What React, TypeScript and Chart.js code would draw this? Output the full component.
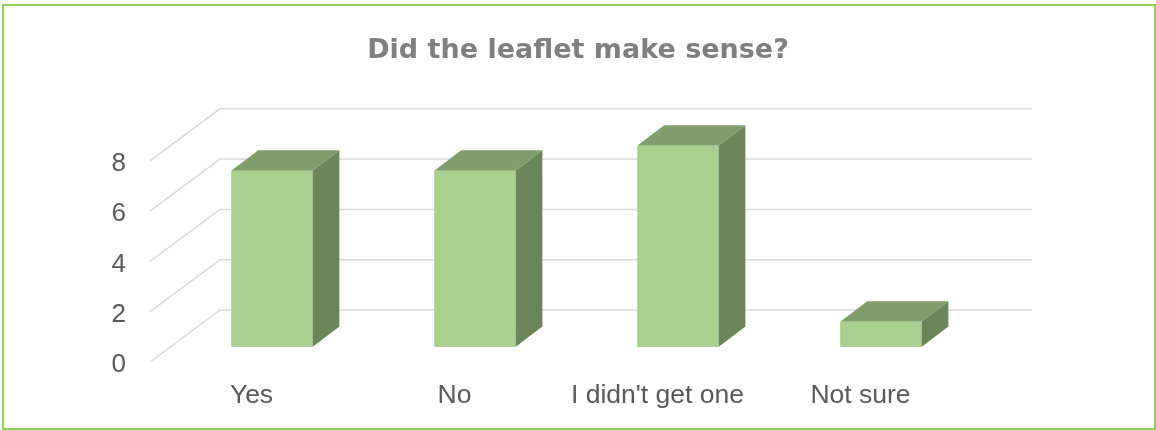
import React, { useEffect, useRef } from 'react';
import { Chart, registerables } from 'chart.js';

Chart.register(...registerables);

const categories = ['Yes', 'No', "I didn't get one", 'Not sure'];
const responses = [7, 7, 8, 1];
const yMin = 0;
const yMax = 8;
const yStep = 2;
const chartTitle = 'Did the leaflet make sense?';

// oblique 3D projection parameters (px)
const WALL_DX = 70;
const WALL_DY = -52;
const BAR_DEPTH_START = 0.29;
const BAR_DX = 27;
const BAR_DY = -20.5;

const FRONT_COLOR = '#A9D08E';
const TOP_COLOR = '#7F9E6A';
const SIDE_COLOR = '#6B8759';
const GRID_COLOR = '#D9D9D9';
const TEXT_COLOR = '#595959';

const threeDPlugin = {
  id: 'threeD',
  beforeDatasetsDraw(chart: any) {
    const { ctx, chartArea, scales } = chart;
    const y = scales.y;
    ctx.save();
    ctx.strokeStyle = GRID_COLOR;
    ctx.lineWidth = 1.5;
    y.ticks.forEach((t: any) => {
      const py = y.getPixelForValue(t.value);
      ctx.beginPath();
      ctx.moveTo(chartArea.left, py);
      ctx.lineTo(chartArea.left + WALL_DX, py + WALL_DY);
      ctx.lineTo(chartArea.right + WALL_DX, py + WALL_DY);
      ctx.stroke();
    });
    ctx.restore();
  },
  afterDatasetsDraw(chart: any) {
    const { ctx } = chart;
    const meta = chart.getDatasetMeta(0);
    const ox = WALL_DX * BAR_DEPTH_START;
    const oy = WALL_DY * BAR_DEPTH_START;
    ctx.save();
    meta.data.forEach((bar: any) => {
      const { x, y, base, width } = bar.getProps(['x', 'y', 'base', 'width'], true);
      const l = x - width / 2 + ox;
      const r = x + width / 2 + ox;
      const t = y + oy;
      const b = base + oy;
      // side
      ctx.fillStyle = SIDE_COLOR;
      ctx.beginPath();
      ctx.moveTo(r, t);
      ctx.lineTo(r + BAR_DX, t + BAR_DY);
      ctx.lineTo(r + BAR_DX, b + BAR_DY);
      ctx.lineTo(r, b);
      ctx.closePath();
      ctx.fill();
      // top
      ctx.fillStyle = TOP_COLOR;
      ctx.beginPath();
      ctx.moveTo(l, t);
      ctx.lineTo(l + BAR_DX, t + BAR_DY);
      ctx.lineTo(r + BAR_DX, t + BAR_DY);
      ctx.lineTo(r, t);
      ctx.closePath();
      ctx.fill();
      // front
      ctx.fillStyle = FRONT_COLOR;
      ctx.fillRect(l, t, r - l, b - t);
    });
    ctx.restore();
  },
};

export default function App() {
  const canvasRef = useRef<HTMLCanvasElement | null>(null);

  useEffect(() => {
    if (!canvasRef.current) return;
    const chart = new Chart(canvasRef.current, {
      type: 'bar',
      data: {
        labels: categories,
        datasets: [
          {
            label: 'Responses',
            data: responses,
            backgroundColor: 'rgba(0,0,0,0)',
            borderWidth: 0,
            categoryPercentage: 1,
            barPercentage: 0.4,
            yAxisID: 'y',
          },
        ],
      },
      options: {
        responsive: false,
        maintainAspectRatio: false,
        animation: false,
        devicePixelRatio: 1,
        layout: { padding: { left: 0, right: 0, top: 0, bottom: 0 } },
        plugins: {
          legend: { display: false },
          tooltip: { enabled: false },
          title: {
            display: true,
            text: chartTitle,
            color: '#7F7F7F',
            font: { family: 'DejaVu Sans', size: 27, weight: 'bold' },
            padding: { top: 34.3, bottom: 94.1 },
          },
        },
        scales: {
          x: {
            grid: { display: false, drawTicks: false },
            border: { display: false },
            ticks: {
              color: TEXT_COLOR,
              font: { family: 'Liberation Sans', size: 26.5 },
              padding: 17.5,
              maxRotation: 0,
              autoSkip: false,
            },
            afterFit: (scale: any) => {
              scale.height = 68;
            },
          },
          y: {
            min: yMin,
            max: yMax,
            grid: { display: false, drawTicks: false },
            border: { display: false },
            ticks: {
              stepSize: yStep,
              color: TEXT_COLOR,
              font: { family: 'Liberation Sans', size: 26 },
              padding: 24,
              labelOffset: 3,
            },
            afterFit: (scale: any) => {
              scale.width = 150;
            },
          },
          depthSpace: {
            type: 'linear',
            position: 'right',
            display: true,
            grid: { display: false, drawTicks: false },
            border: { display: false },
            ticks: { display: false },
            afterFit: (scale: any) => {
              scale.width = 194;
            },
          },
        },
      },
      plugins: [threeDPlugin],
    });
    return () => chart.destroy();
  }, []);

  return (
    <div style={{ position: 'absolute', left: 0, top: 0, width: 1156, height: 430, background: '#ffffff' }}>
      <canvas
        ref={canvasRef}
        width={1156}
        height={430}
        style={{ position: 'absolute', left: 0, top: 0, width: 1156, height: 430 }}
      />
      <div
        style={{
          position: 'absolute',
          left: 2,
          top: 4,
          width: 1154,
          height: 426,
          border: '2px solid #92D050',
          boxSizing: 'border-box',
          pointerEvents: 'none',
        }}
      />
    </div>
  );
}
